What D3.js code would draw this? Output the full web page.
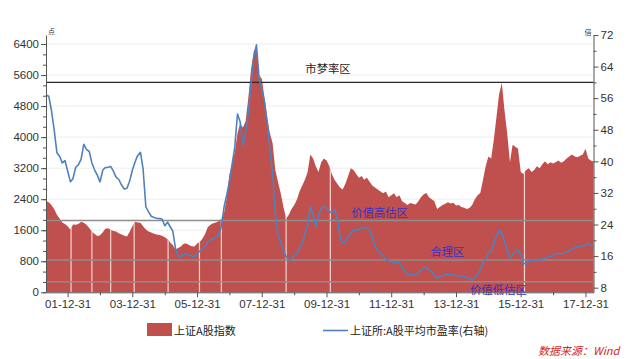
<!DOCTYPE html>
<html>
<head>
<meta charset="utf-8">
<script src="https://cdn.jsdelivr.net/npm/d3@7"></script>
<style>
  body { margin: 0; background: #fff; }
  svg { display: block; }
</style>
</head>
<body>
<div id="output"></div>
<script>
// Monthly values, first month is 2001-05
var startMonth = '2001-05-01';

// 上证A股指数 (left axis)
var indexValues = [
  2355, 2320, 2250, 2150, 2000, 1900, 1800, 1760, 1700, 1610,
  1750, 1740, 1760, 1820, 1790, 1740, 1660, 1560, 1500, 1450,
  1470, 1550, 1640, 1650, 1610, 1580, 1570, 1520, 1490, 1460,
  1440, 1560, 1700, 1820, 1800, 1790, 1700, 1620, 1570, 1540,
  1510, 1490, 1480, 1460, 1420, 1370, 1290, 1220, 1100, 1140,
  1180, 1250, 1260, 1220, 1190, 1180, 1260, 1300, 1380, 1500,
  1680, 1740, 1780, 1800, 1830, 1900, 2050, 2450, 3050, 3330,
  3600, 4100, 4350, 4250, 4400, 5000, 5750, 6200, 6380, 5600,
  5500, 5000, 4500, 4100, 3850, 3150, 2850, 2550, 2200, 1900,
  2000, 2150, 2250, 2400, 2600, 2750, 2900, 3100, 3550, 3450,
  3250, 3100, 3350, 3450, 3400, 3250, 3050, 2900, 2800, 2700,
  2650, 2800, 3000, 3200, 3150, 3050, 2950, 3000, 2900, 2950,
  2850, 2750, 2700, 2650, 2600, 2550, 2600, 2450, 2500, 2550,
  2450, 2500, 2350, 2300, 2250, 2300, 2280, 2260, 2350, 2450,
  2530, 2560, 2450, 2400, 2350, 2150, 2200, 2250, 2280, 2320,
  2290, 2310, 2240, 2250, 2200, 2180, 2150, 2170, 2250, 2400,
  2500, 2560, 2900, 3250, 3500, 3450, 3900, 4500, 5100, 5400,
  4700, 4100, 3350, 3800, 3750, 3700, 3100, 3050, 3150, 3200,
  3100, 3150, 3250, 3200, 3300, 3380, 3300, 3350, 3320, 3360,
  3400, 3340, 3380, 3450, 3500, 3550, 3500, 3480, 3520, 3550,
  3700, 3450, 3400, 3370
];

// 上证所:A股平均市盈率 (right axis)
var peValues = [
  56.8, 56.5, 53.0, 48.0, 42.2, 41.3, 39.6, 40.2, 37.5, 34.8,
  35.6, 38.5, 39.1, 40.5, 44.3, 43.0, 42.5, 39.6, 37.8, 36.5,
  34.8, 37.8, 38.4, 38.5, 38.7, 37.5, 36.0, 35.4, 34.0, 33.0,
  33.2, 35.0, 37.8, 39.9, 41.5, 42.3, 38.0, 28.5, 27.2, 26.1,
  25.8, 25.6, 25.5, 25.4, 23.7, 24.6, 23.5, 22.3, 18.0, 15.9,
  16.0, 16.5, 16.6, 16.3, 16.0, 15.8, 16.6, 17.3, 17.8, 18.5,
  19.6, 20.0, 20.4, 20.8, 21.4, 23.5, 28.5, 31.5, 35.0, 39.5,
  43.5, 52.0, 50.0, 44.0, 47.0, 52.0, 60.0, 66.0, 69.5, 61.0,
  58.0, 55.0, 50.0, 43.0, 37.0, 27.0, 21.5, 19.5, 17.5, 15.8,
  15.0, 15.2, 16.2, 16.7, 18.0, 19.3, 21.5, 24.0, 28.5, 26.5,
  23.5, 26.5, 28.0, 28.6, 28.2, 27.2, 27.0, 27.8, 25.5, 21.0,
  19.2, 19.6, 20.9, 21.8, 22.6, 22.4, 22.8, 23.4, 23.0, 23.3,
  22.5, 20.8, 18.5, 17.3, 16.8, 16.0, 15.2, 14.8, 14.5, 14.2,
  14.6, 14.2, 13.3, 12.2, 11.4, 11.3, 11.2, 11.2, 11.8, 12.5,
  13.0, 13.2, 12.5, 12.0, 11.3, 10.4, 10.8, 11.1, 11.2, 11.3,
  11.4, 11.3, 11.1, 11.0, 10.9, 10.8, 10.6, 10.3, 9.9, 10.6,
  11.5, 12.6, 14.2, 15.3, 16.7, 17.3, 19.0, 21.2, 22.6, 21.8,
  19.8, 17.3, 15.6, 16.4, 17.2, 17.5, 16.5, 14.2, 14.0, 14.9,
  15.0, 14.9, 15.0, 15.1, 15.3, 15.5, 15.7, 15.9, 16.2, 16.6,
  16.7, 16.6, 16.7, 17.0, 17.4, 17.7, 18.2, 18.4, 18.4, 18.6,
  18.8, 19.2, 18.7, 18.4
];

// holidays with no bars (show as pale gaps in the red area)
var gapDates = ['2002-02-08', '2002-10-01', '2003-05-01', '2004-01-21', '2005-02-07',
  '2006-01-27', '2006-10-01', '2008-10-01', '2010-02-12', '2016-02-12'];

// PE zones
var zoneNames = ['市梦率区', '价值高估区', '合理区', '价值低估区'];
var zoneValues = [60, 25, 15, 9.5];
var zoneLabelDates = ['2009-05-06', '2010-10-08', '2013-03-17', '2014-06-10'];

var xTickLabels = ['01-12-31', '03-12-31', '05-12-31', '07-12-31', '09-12-31',
  '11-12-31', '13-12-31', '15-12-31', '17-12-31'];
var xMinorLabels = ['02-12-31', '04-12-31', '06-12-31', '08-12-31', '10-12-31',
  '12-12-31', '14-12-31', '16-12-31'];
var leftTicks = [0, 800, 1600, 2400, 3200, 4000, 4800, 5600, 6400];
var rightTicks = [8, 16, 24, 32, 40, 48, 56, 64, 72];

var legendNames = ['上证A股指数', '上证所:A股平均市盈率(右轴)'];
var sourceText = '数据来源：Wind';

function renderGraph(){
  var width = 640;
  var height = 359;
  var left = 46, right = 593.5, top = 35, bottom = 292.3;

  var parseDay = d3.timeParse('%Y-%m-%d');
  var parseTick = d3.timeParse('%y-%m-%d');
  var start = parseDay(startMonth);
  var dates = indexValues.map((d, i) => d3.timeMonth.offset(start, i));

  var svg = d3.select('#output')
  .append('svg')
  .attr('width', width)
  .attr('height', height)
  .style('font-family', '"Liberation Sans", Arial, sans-serif');

  var xScale = d3.scaleTime()
  .domain([dates[0], dates[dates.length - 1]])
  .range([left, right]);

  var yLeft = d3.scaleLinear()
  .domain([0, 6632])
  .range([bottom, top]);

  var yRight = d3.scaleLinear()
  .domain([6.83, 72])
  .range([bottom, top]);

  // light gridlines
  svg.append('g')
  .selectAll('line')
  .data(leftTicks.slice(1))
  .join('line')
  .attr('x1', left).attr('x2', right)
  .attr('y1', (d) => yLeft(d)).attr('y2', (d) => yLeft(d))
  .attr('stroke', '#ededed')
  .attr('stroke-width', 1);

  // red area
  var area = d3.area()
  .x((d, i) => xScale(dates[i]))
  .y0(yLeft(0))
  .y1((d) => yLeft(d));

  svg.append('clipPath')
  .attr('id', 'area-clip')
  .append('path')
  .attr('d', area(indexValues));

  svg.append('path')
  .attr('d', area(indexValues))
  .attr('fill', '#c0504d');

  svg.append('g')
  .attr('clip-path', 'url(#area-clip)')
  .selectAll('line')
  .data(gapDates)
  .join('line')
  .attr('x1', (d) => xScale(parseDay(d))).attr('x2', (d) => xScale(parseDay(d)))
  .attr('y1', top).attr('y2', bottom)
  .attr('stroke', '#f3d3ce')
  .attr('stroke-width', 1.2);

  // zone lines
  svg.append('g')
  .selectAll('line')
  .data(zoneValues)
  .join('line')
  .attr('x1', left).attr('x2', right)
  .attr('y1', (d) => yRight(d)).attr('y2', (d) => yRight(d))
  .attr('stroke', (d, i) => i === 0 ? '#262626' : '#8d8d8d')
  .attr('stroke-width', (d, i) => i === 0 ? 1.1 : 1.6);

  // PE line
  var line = d3.line()
  .x((d, i) => xScale(dates[i]))
  .y((d) => yRight(d));

  svg.append('path')
  .attr('d', line(peValues))
  .attr('fill', 'none')
  .attr('stroke', '#4f81bd')
  .attr('stroke-width', 1.6)
  .attr('stroke-linejoin', 'round');

  // zone labels: above the line, last one sits below it
  var labelOffsets = [-9, -4, -4, 12];
  svg.append('g')
  .selectAll('text')
  .data(zoneNames)
  .join('text')
  .attr('x', (d, i) => xScale(parseDay(zoneLabelDates[i])))
  .attr('y', (d, i) => yRight(zoneValues[i]) + labelOffsets[i])
  .attr('font-family', '"Noto Sans CJK SC", sans-serif')
  .attr('font-size', 11.3)
  .attr('fill', (d, i) => i === 0 ? '#1e1e1e' : '#3c2fbf')
  .text((d) => d);

  // X-axis
  var xAxis = d3.axisBottom(xScale)
  .tickValues(xTickLabels.map((d) => parseTick(d)))
  .tickFormat(d3.timeFormat('%y-%m-%d'))
  .tickSize(5)
  .tickSizeOuter(0)
  .tickPadding(3);

  var gx = svg.append('g')
  .attr('transform', `translate(0, ${bottom})`)
  .call(xAxis);

  svg.append('g')
  .attr('transform', `translate(0, ${bottom})`)
  .call(d3.axisBottom(xScale)
    .tickValues(xMinorLabels.map((d) => parseTick(d)))
    .tickFormat('')
    .tickSize(3)
    .tickSizeOuter(0))
  .select('.domain').remove();

  // Y-axis left
  var gl = svg.append('g')
  .attr('transform', `translate(${left}, 0)`)
  .call(d3.axisLeft(yLeft).tickValues(leftTicks).tickFormat(d3.format('d'))
    .tickSize(5).tickSizeOuter(0).tickPadding(2));

  svg.append('g')
  .attr('transform', `translate(${left}, 0)`)
  .call(d3.axisLeft(yLeft).tickValues(d3.range(0, 6600, 800 / 3)).tickFormat('').tickSize(3).tickSizeOuter(0))
  .select('.domain').remove();

  // Y-axis right
  var gr = svg.append('g')
  .attr('transform', `translate(${right}, 0)`)
  .call(d3.axisRight(yRight).tickValues(rightTicks).tickSize(5).tickSizeOuter(0).tickPadding(2));

  svg.append('g')
  .attr('transform', `translate(${right}, 0)`)
  .call(d3.axisRight(yRight).tickValues(d3.range(12, 72, 8)).tickFormat('').tickSize(3).tickSizeOuter(0))
  .select('.domain').remove();

  [gx, gl, gr].forEach((g) => {
    g.selectAll('text').attr('font-size', 11.5).attr('fill', '#333')
    .attr('font-family', '"Liberation Sans", Arial, sans-serif');
    g.selectAll('line,path').attr('stroke', '#555');
  });
  svg.selectAll('.tick line').attr('stroke', '#555');

  // unit labels
  svg.append('text')
  .attr('x', left + 2).attr('y', top - 1)
  .attr('font-family', '"Noto Sans CJK SC", sans-serif')
  .attr('font-size', 7).attr('fill', '#333')
  .text('点');

  svg.append('text')
  .attr('x', right - 2).attr('y', top)
  .attr('text-anchor', 'end')
  .attr('font-family', '"Noto Sans CJK SC", sans-serif')
  .attr('font-size', 7).attr('fill', '#333')
  .text('倍');

  // legend
  var legend = svg.append('g')
  .attr('font-family', '"Noto Sans CJK SC", sans-serif')
  .attr('font-size', 11)
  .attr('fill', '#222');

  legend.append('rect')
  .attr('x', 147).attr('y', 323)
  .attr('width', 25).attr('height', 13)
  .attr('fill', '#c0504d');

  legend.append('text')
  .attr('x', 174).attr('y', 334.5)
  .text(legendNames[0]);

  legend.append('line')
  .attr('x1', 323).attr('x2', 348)
  .attr('y1', 330.5).attr('y2', 330.5)
  .attr('stroke', '#4f81bd')
  .attr('stroke-width', 1.6);

  legend.append('text')
  .attr('x', 350).attr('y', 334.5)
  .text(legendNames[1]);

  svg.append('text')
  .attr('x', 538).attr('y', 355)
  .attr('font-family', '"Noto Sans CJK SC", sans-serif')
  .attr('font-size', 11)
  .attr('font-style', 'italic')
  .attr('fill', '#d42424')
  .text(sourceText);
}

document.addEventListener('DOMContentLoaded', renderGraph);
</script>
</body>
</html>
